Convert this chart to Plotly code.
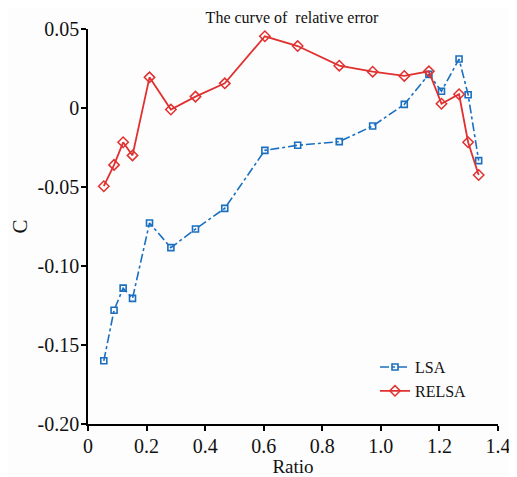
import plotly.graph_objects as go

ratio = [0.054, 0.089, 0.120, 0.152, 0.210, 0.283, 0.367, 0.467, 0.604, 0.716,
         0.858, 0.972, 1.080, 1.164, 1.207, 1.267, 1.298, 1.334]
lsa = [-0.160, -0.128, -0.114, -0.1205, -0.0728, -0.0884, -0.0766, -0.0635, -0.0268,
       -0.0236, -0.0213, -0.0114, 0.0023, 0.0213, 0.0106, 0.031, 0.0084, -0.0333]
relsa = [-0.0495, -0.036, -0.0217, -0.030, 0.0194, -0.001, 0.0072, 0.0156, 0.0454,
         0.0392, 0.0268, 0.023, 0.0203, 0.0232, 0.0027, 0.0087, -0.0217, -0.0424]

xticks = [0, 0.2, 0.4, 0.6, 0.8, 1.0, 1.2, 1.4]
xlabels = ["0", "0.2", "0.4", "0.6", "0.8", "1.0", "1.2", "1.4"]
yticks = [-0.20, -0.15, -0.10, -0.05, 0, 0.05]
ylabels = ["-0.20", "-0.15", "-0.10", "-0.05", "0", "0.05"]

blue = "#1a6fc0"
red = "#e03030"
font = "Liberation Serif"

fig = go.Figure()
fig.add_trace(go.Scatter(
    x=ratio, y=lsa, name="LSA", mode="lines+markers",
    line=dict(color=blue, width=1.6, dash="dashdot"),
    marker=dict(symbol="square-open", size=6, color=blue, line=dict(width=1.6, color=blue)),
))
fig.add_trace(go.Scatter(
    x=ratio, y=relsa, name="RELSA", mode="lines+markers",
    line=dict(color=red, width=1.8),
    marker=dict(symbol="diamond-open", size=8, color=red, line=dict(width=1.5, color=red)),
))

fig.update_layout(
    width=509, height=469,
    margin=dict(l=80, r=19, t=21, b=53, autoexpand=False),
    paper_bgcolor="#fdfdfd", plot_bgcolor="#fdfdfd",
    font=dict(family=font, color="#111111"),
    title=dict(text="The curve of  relative error", x=0.558, xanchor="center",
               xref="container", yref="container",
               y=0.979, yanchor="middle", font=dict(size=16, family=font)),
    showlegend=True,
    legend=dict(x=0.70, y=0.187, xanchor="left", yanchor="top",
                bgcolor="rgba(0,0,0,0)", font=dict(size=16, family=font),
                itemwidth=30, tracegroupgap=0),
    xaxis=dict(range=[0, 1.4], tickvals=xticks, ticktext=xlabels,
               showgrid=False, zeroline=False, showline=True, linecolor="black",
               linewidth=1.6, ticks="outside", ticklen=5, tickwidth=1.5,
               tickcolor="black", tickfont=dict(size=20, family=font),
               ticklabelstandoff=-2,
               title=dict(text="Ratio", font=dict(size=19, family=font), standoff=4)),
    yaxis=dict(range=[-0.2, 0.05], tickvals=yticks, ticktext=ylabels,
               showgrid=False, zeroline=False, showline=True, linecolor="black",
               linewidth=1.6, ticks="outside", ticklen=5, tickwidth=1.5,
               tickcolor="black", tickfont=dict(size=20, family=font),
               ticklabelstandoff=-2,
               title=dict(text="C", font=dict(size=21, family=font), standoff=23)),
)

fig.write_html("out.html")
